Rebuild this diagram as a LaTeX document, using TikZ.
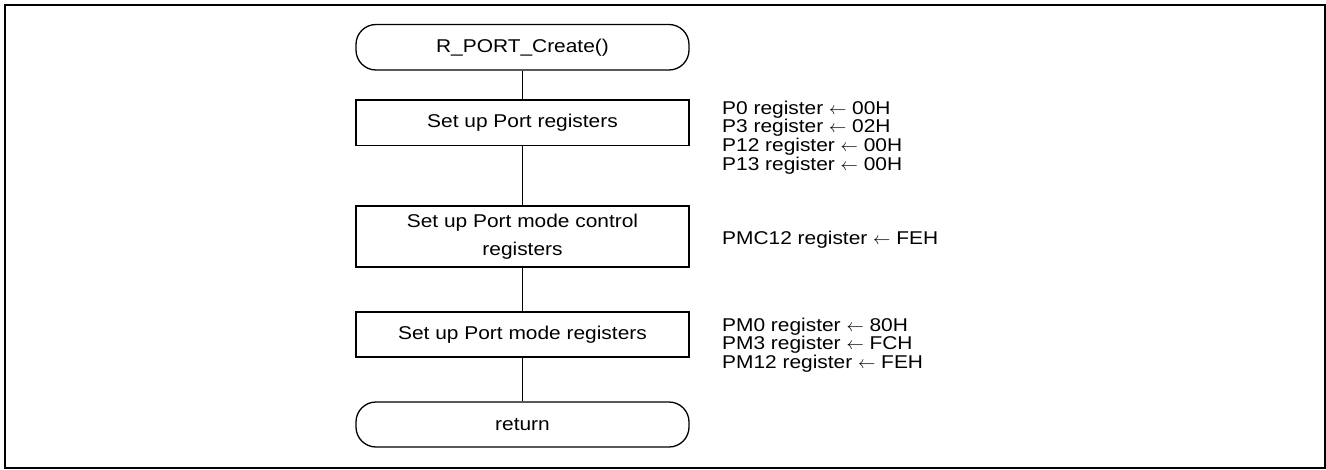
\documentclass[tikz,border=0pt]{standalone}
\usepackage{fontspec}
\setmainfont[FakeStretch=1.13]{Liberation Sans}
\newcommand{\larr}{\ensuremath{\leftarrow}}
\begin{document}
\begin{tikzpicture}[x=1pt,y=-1pt,
  every node/.style={font=\fontsize{18.5}{18.7}\selectfont},
  proc/.style={draw, line width=1.3pt, minimum width=333pt, inner sep=0pt, align=center},
  term/.style={proc, rounded corners=20pt},
  note/.style={anchor=north west, inner sep=0pt, align=left},
  link/.style={line width=1.3pt}]
\useasboundingbox (0,0) rectangle (1326,469);
\draw[line width=2pt] (4.5,4.5) rectangle (1325,467.5);

\node[term, minimum height=45.5pt] (start) at (522.5,47.25) {R\_PORT\_Create()};
\node[proc, minimum height=45.5pt] (b1) at (522.5,122.75) {Set up Port registers};
\node[proc, minimum height=61pt, font=\fontsize{18.5}{28}\selectfont] (b2) at (522.5,236.5) {Set up Port mode control\\registers};
\node[proc, minimum height=45pt] (b3) at (522.5,334.5) {Set up Port mode registers};
\node[term, minimum height=45pt] (ret) at (522.5,424.5) {return};

\draw[link] (start) -- (b1);
\draw[link] (b1) -- (b2);
\draw[link] (b2) -- (b3);
\draw[link] (b3) -- (ret);

\node[note] (n1) at (722,100.5) {P0 register \larr{} 00H\\P3 register \larr{} 02H\\P12 register \larr{} 00H\\P13 register \larr{} 00H};
\node[note] (n2) at (722,230.5) {PMC12 register \larr{} FEH};
\node[note] (n3) at (722,317.5) {PM0 register \larr{} 80H\\PM3 register \larr{} FCH\\PM12 register \larr{} FEH};
\end{tikzpicture}
\end{document}
